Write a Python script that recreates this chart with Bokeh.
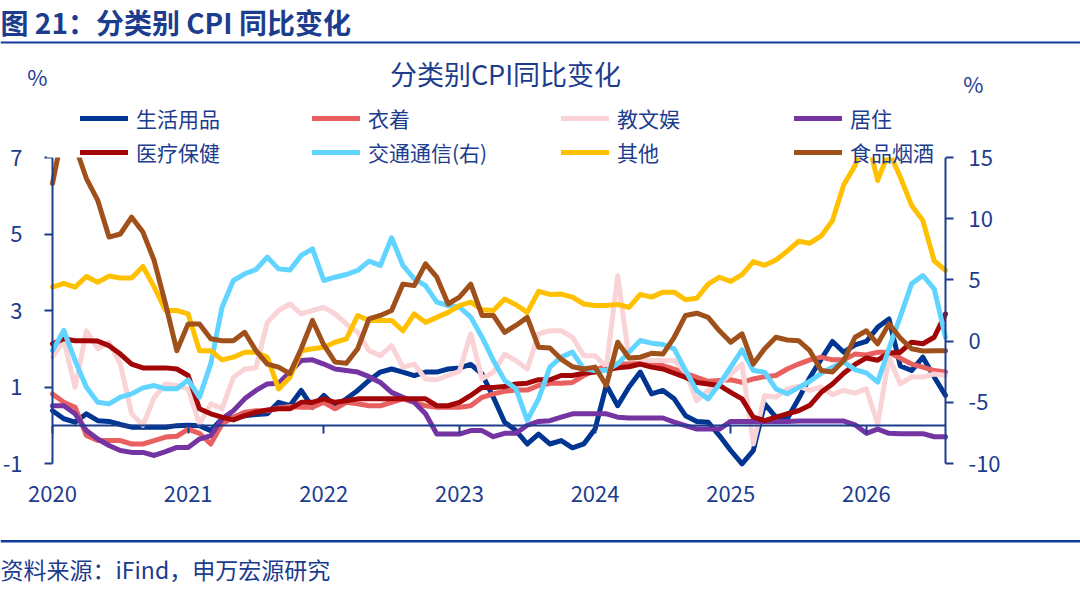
from bokeh.plotting import figure
from bokeh.models import (Range1d, LinearAxis, FixedTicker, Label, Legend,
                          LegendItem, BoxAnnotation)
from bokeh.embed import file_html
from bokeh.resources import INLINE

# ---------------- data (monthly, Jan 2020 .. Aug 2026) ----------------
months = list(range(80))
year_ticks = [0, 12, 24, 36, 48, 60, 72]
year_labels = ["2020", "2021", "2022", "2023", "2024", "2025", "2026"]
left_ticks = [-1, 1, 3, 5, 7]
left_labels = ["-1", "1", "3", "5", "7"]
right_ticks = [-10, -5, 0, 5, 10, 15]
right_labels = ["-10", "-5", "0", "5", "10", "15"]

daily_goods = [0.38, 0.17, 0.08, 0.30, 0.12, 0.10, 0.02, -0.05, -0.05, -0.05,
               -0.05, -0.01, 0.00, -0.01, -0.14, 0.17, 0.21, 0.25, 0.28, 0.30,
               0.60, 0.51, 0.91, 0.47, 0.78, 0.50, 0.69, 0.91, 1.17, 1.39,
               1.47, 1.39, 1.30, 1.39, 1.39, 1.47, 1.50, 1.59, 1.34, 0.73,
               0.08, -0.14, -0.49, -0.23, -0.49, -0.40, -0.59, -0.49, -0.10, 1.05,
               0.51, 1.00, 1.39, 0.82, 0.91, 0.69, 0.25, 0.10, 0.08, -0.27,
               -0.66, -1.01, -0.66, 0.56, 0.21, 0.17, 0.69, 1.25, 1.73, 2.19,
               1.91, 2.10, 2.19, 2.56, 2.78, 1.55, 1.43, 1.78, 1.26, 0.78]
clothing = [0.82, 0.60, 0.47, -0.27, -0.40, -0.40, -0.40, -0.49, -0.49, -0.40,
            -0.31, -0.29, -0.10, -0.21, -0.49, 0.03, 0.21, 0.34, 0.38, 0.38,
            0.45, 0.49, 0.47, 0.47, 0.60, 0.43, 0.60, 0.56, 0.51, 0.51,
            0.60, 0.69, 0.60, 0.51, 0.47, 0.47, 0.47, 0.51, 0.73, 0.82,
            0.89, 0.92, 0.92, 1.04, 1.10, 1.10, 1.12, 1.30, 1.43, 1.56,
            1.60, 1.60, 1.62, 1.56, 1.56, 1.47, 1.36, 1.25, 1.15, 1.17,
            1.19, 1.12, 1.21, 1.27, 1.30, 1.47, 1.60, 1.71, 1.78, 1.71,
            1.71, 1.86, 1.84, 1.91, 1.91, 1.75, 1.60, 1.52, 1.43, 1.39]
education = [1.78, 2.21, 0.99, 2.47, 2.00, 2.17, 1.60, 0.30, 0.00, 0.73,
             1.08, 1.04, 0.95, 0.03, 0.56, 0.43, 1.25, 1.47, 1.50, 2.69,
             3.00, 3.17, 2.91, 3.00, 3.08, 2.91, 2.65, 2.43, 1.95, 1.82,
             2.08, 1.52, 1.60, 1.21, 1.19, 1.30, 1.41, 2.39, 1.21, 1.39,
             1.86, 1.69, 1.47, 2.39, 2.47, 2.47, 2.30, 1.82, 1.82, 1.52,
             3.91, 1.75, 1.73, 1.69, 1.69, 1.69, 1.39, 0.64, 0.91, 1.08,
             1.34, 1.60, -0.49, 0.78, 0.73, 0.95, 1.02, 0.91, 1.00, 0.80,
             0.91, 0.84, 0.95, 0.03, 1.78, 1.08, 1.26, 1.26, 1.34, 1.30]
housing = [0.51, 0.51, 0.30, -0.14, -0.36, -0.53, -0.66, -0.71, -0.71, -0.79,
           -0.69, -0.58, -0.58, -0.36, -0.27, 0.17, 0.38, 0.69, 0.91, 1.08,
           1.10, 1.39, 1.69, 1.71, 1.60, 1.47, 1.43, 1.39, 1.27, 1.12,
           0.86, 0.73, 0.60, 0.30, -0.23, -0.23, -0.23, -0.14, -0.14, -0.30,
           -0.21, -0.21, 0.00, 0.10, 0.12, 0.21, 0.30, 0.30, 0.30, 0.30,
           0.21, 0.19, 0.19, 0.19, 0.19, 0.08, -0.01, -0.10, -0.10, -0.10,
           0.10, 0.10, 0.10, 0.10, 0.10, 0.10, 0.11, 0.11, 0.11, 0.11,
           0.11, 0.01, -0.21, -0.10, -0.21, -0.22, -0.22, -0.22, -0.30, -0.30]
health = [2.13, 2.26, 2.21, 2.21, 2.20, 2.08, 1.86, 1.60, 1.50, 1.50,
          1.50, 1.47, 1.30, 0.43, 0.30, 0.21, 0.14, 0.25, 0.34, 0.40,
          0.43, 0.43, 0.60, 0.60, 0.69, 0.60, 0.64, 0.69, 0.69, 0.69,
          0.69, 0.69, 0.69, 0.69, 0.51, 0.51, 0.60, 0.78, 0.99, 0.99,
          1.01, 1.08, 1.10, 1.19, 1.19, 1.30, 1.30, 1.36, 1.39, 1.45,
          1.50, 1.53, 1.60, 1.52, 1.47, 1.36, 1.25, 1.12, 1.08, 1.04,
          0.86, 0.69, 0.21, 0.12, 0.21, 0.30, 0.38, 0.52, 0.86, 1.08,
          1.36, 1.59, 1.76, 1.70, 1.89, 1.91, 2.17, 2.13, 2.30, 2.91]
transport = [-0.77, 0.87, -1.60, -3.77, -4.99, -5.13, -4.58, -4.31, -3.82, -3.63,
             -3.90, -3.90, -3.17, -4.58, -1.86, 2.77, 4.95, 5.50, 5.85, 6.86,
             5.90, 5.80, 7.00, 7.54, 4.95, 5.22, 5.44, 5.77, 6.53, 6.18,
             8.44, 6.18, 5.09, 4.54, 3.18, 2.90, 2.77, 1.96, 0.32, -1.58,
             -3.21, -3.90, -6.48, -4.72, -2.13, -1.31, -0.90, -2.27, -2.40, -2.40,
             -1.86, -0.90, 0.05, -0.17, -0.28, -0.63, -2.40, -4.05, -4.73, -3.50,
             -2.13, -0.71, -2.40, -2.54, -3.90, -4.30, -3.80, -3.28, -2.64, -2.13,
             -1.70, -2.33, -2.60, -3.35, -0.60, 2.00, 4.68, 5.36, 4.27, 0.32]
others = [3.61, 3.71, 3.61, 3.89, 3.74, 3.90, 3.85, 3.85, 4.15, 3.61,
          3.00, 3.00, 2.91, 1.95, 1.95, 1.71, 1.78, 1.91, 1.91, 1.78,
          0.95, 1.25, 1.95, 2.00, 2.04, 2.17, 2.26, 2.87, 2.74, 2.74,
          2.74, 2.47, 2.91, 2.69, 2.82, 2.95, 3.13, 3.22, 3.02, 3.00,
          3.30, 3.15, 2.95, 3.50, 3.42, 3.43, 3.35, 3.17, 3.13, 3.13,
          3.16, 3.08, 3.42, 3.35, 3.48, 3.48, 3.28, 3.32, 3.69, 3.87,
          3.76, 3.94, 4.28, 4.18, 4.32, 4.55, 4.81, 4.76, 4.95, 5.35,
          6.29, 6.79, 7.60, 6.40, 7.15, 6.49, 5.75, 5.35, 4.30, 4.05]
food = [6.32, 7.80, 7.30, 6.45, 5.88, 4.92, 5.00, 5.44, 5.05, 4.30,
        3.17, 1.95, 2.65, 2.65, 2.26, 2.21, 2.21, 2.43, 1.95, 1.60,
        1.52, 1.35, 2.00, 2.74, 2.10, 1.65, 1.62, 2.00, 2.78, 2.87,
        3.00, 3.69, 3.65, 4.22, 3.87, 3.17, 3.35, 3.69, 2.87, 2.87,
        2.43, 2.61, 2.82, 2.04, 2.02, 1.73, 1.53, 1.47, 1.52, 1.04,
        2.17, 1.76, 1.78, 1.88, 1.86, 2.30, 2.87, 2.93, 2.82, 2.47,
        2.17, 2.39, 1.60, 2.00, 2.30, 2.23, 2.21, 1.95, 1.43, 1.39,
        1.69, 2.30, 2.47, 2.13, 2.65, 2.28, 2.00, 1.94, 1.95, 1.95]

series = [
    ("生活用品", daily_goods, "#003591", "default"),
    ("衣着", clothing, "#E8605F", "default"),
    ("教文娱", education, "#F9D3D6", "default"),
    ("居住", housing, "#7435A2", "default"),
    ("医疗保健", health, "#A30606", "default"),
    ("交通通信(右)", transport, "#61D4FF", "right"),
    ("其他", others, "#FFC000", "default"),
    ("食品烟酒", food, "#A0501A", "default"),
]

# ---------------- layout geometry ----------------
W, H = 1080, 594
FONT = "Noto Sans CJK SC"
TXT = "#1C3C8E"
AX = "#1C3C8E"
RULE = "#0E3C9C"

# data area on the page: x 52..945, y 157 (top) .. 463 (bottom)
FL, FR, FT, FB = 52, 945, 157, 463
X0, X1 = 0, 79
YL0, YL1 = -1, 7
YR0, YR1 = -10, 15
sx = (FR - FL) / (X1 - X0)
syl = (FB - FT) / (YL1 - YL0)
syr = (FB - FT) / (YR1 - YR0)

x_range = Range1d(X0 - FL / sx, X1 + (W - FR) / sx)
y_range = Range1d(YL0 - (H - FB) / syl, YL1 + FT / syl)
yr_range = Range1d(YR0 - (H - FB) / syr, YR1 + FT / syr)

p = figure(width=W, height=H, output_backend="svg", toolbar_location=None,
           x_range=x_range, y_range=y_range,
           x_axis_location=None, y_axis_location=None,
           min_border=0, min_border_left=0, min_border_right=0,
           min_border_top=0, min_border_bottom=0,
           background_fill_color="white", border_fill_color="white")
p.outline_line_color = None
p.grid.visible = False
p.extra_y_ranges = {"right": yr_range}


def style_axis(a, tick_out=8, standoff=8, size="22px"):
    a.axis_line_color = AX
    a.axis_line_width = 2
    a.major_tick_line_color = AX
    a.major_tick_line_width = 2
    a.major_tick_in = 0
    a.major_tick_out = tick_out
    a.minor_tick_line_color = None
    a.minor_tick_in = 0
    a.minor_tick_out = 0
    a.major_label_standoff = standoff
    a.major_label_text_font = FONT
    a.major_label_text_font_size = size
    a.major_label_text_color = TXT


# left axis
la = LinearAxis(fixed_location=X0, bounds=(YL0, YL1),
                ticker=FixedTicker(ticks=left_ticks),
                major_label_overrides=dict(zip(left_ticks, left_labels)))
style_axis(la, standoff=22)
p.add_layout(la, "left")

# right axis
ra = LinearAxis(y_range_name="right", fixed_location=X1, bounds=(YR0, YR1),
                ticker=FixedTicker(ticks=right_ticks),
                major_label_overrides=dict(zip(right_ticks, right_labels)))
style_axis(ra, standoff=15)
p.add_layout(ra, "right")

# zero line with year ticks
za = LinearAxis(fixed_location=0, bounds=(X0, X1),
                ticker=FixedTicker(ticks=year_ticks),
                major_label_overrides={t: "" for t in year_ticks})
style_axis(za, size="0px")
p.add_layout(za, "below")

# year labels at the bottom
ba = LinearAxis(fixed_location=YL0, bounds=(X0, X1),
                ticker=FixedTicker(ticks=year_ticks),
                major_label_overrides=dict(zip(year_ticks, year_labels)))
style_axis(ba, tick_out=0, standoff=22)
ba.axis_line_color = None
ba.major_tick_line_color = None
p.add_layout(ba, "below")

# lines
renderers = []
for name, vals, color, yr in series:
    r = p.line(x=months, y=vals, line_color=color, line_width=5,
               line_join="round", line_cap="round", y_range_name=yr)
    renderers.append((name, r))

# the plot area ends at the top tick (7): hide anything drawn above it
p.add_layout(BoxAnnotation(left=X0 - 0.5, right=X1, bottom=YL1, top=YL1 + 1.5,
                           fill_color="white", fill_alpha=1, line_color=None))


def page_y(y):
    return H - y


# legends: 4 columns x 2 rows
col_x = [80, 312, 561, 794]
row_bottom = [133, 167]
for k, (name, r) in enumerate(renderers):
    row, col = divmod(k, 4)
    leg = Legend(items=[LegendItem(label=name, renderers=[r])],
                 location=(col_x[col], page_y(row_bottom[row])),
                 orientation="horizontal", padding=0, margin=0,
                 border_line_color=None, background_fill_alpha=0,
                 glyph_width=48, glyph_height=24, label_height=24,
                 label_standoff=8, label_text_font=FONT,
                 label_text_font_size="21px", label_text_color=TXT)
    p.add_layout(leg)


def lab(text, px, py, size, align="left", bold=False):
    return Label(x=px, y=page_y(py), x_units="screen", y_units="screen",
                 text=text, text_font=FONT, text_font_size=size,
                 text_color=TXT, text_align=align, text_baseline="middle",
                 text_font_style="bold" if bold else "normal")


p.add_layout(lab("图 21：分类别 CPI 同比变化", 0, 21, "28px", bold=True))
p.add_layout(lab("分类别CPI同比变化", 505, 73, "27px", align="center"))
p.add_layout(lab("%", 37, 75, "22px", align="center"))
p.add_layout(lab("%", 973, 82, "22px", align="center"))
p.add_layout(lab("资料来源：iFind，申万宏源研究", 0, 568, "23px"))

# separator rules
for y0, y1 in [(41, 43), (539.5, 542)]:
    p.add_layout(BoxAnnotation(left=0, right=W, top=page_y(y0), bottom=page_y(y1),
                               left_units="screen", right_units="screen",
                               top_units="screen", bottom_units="screen",
                               fill_color=RULE, fill_alpha=1, line_color=None))

open("out.html", "w").write(file_html(p, INLINE))
